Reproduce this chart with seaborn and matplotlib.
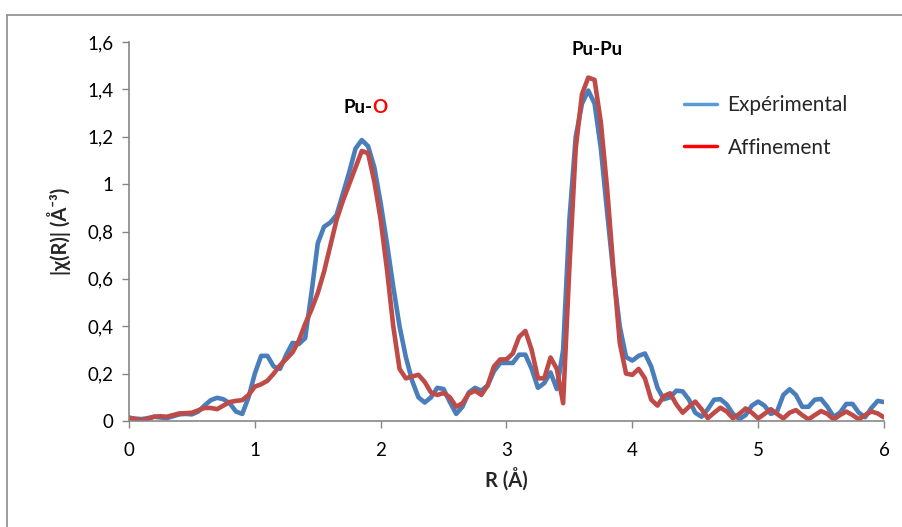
import numpy as np
import pandas as pd
import seaborn as sns
import matplotlib
matplotlib.use("Agg")
import matplotlib.pyplot as plt
from matplotlib.lines import Line2D

# ---- data ----
r_values = [round(0.05 * i, 2) for i in range(121)]

experimental = [
    0.012, 0.010, 0.008, 0.012, 0.018, 0.015, 0.012, 0.020, 0.028, 0.030,
    0.028, 0.040, 0.065, 0.088, 0.098, 0.092, 0.075, 0.040, 0.030, 0.100,
    0.200, 0.275, 0.275, 0.230, 0.220, 0.280, 0.330, 0.325, 0.350, 0.540,
    0.750, 0.820, 0.838, 0.870, 0.960, 1.050, 1.150, 1.186, 1.160, 1.070,
    0.920, 0.750, 0.567, 0.400, 0.270, 0.170, 0.100, 0.078, 0.100, 0.140,
    0.135, 0.080, 0.030, 0.060, 0.120, 0.140, 0.128, 0.150, 0.210, 0.245,
    0.245, 0.245, 0.280, 0.280, 0.220, 0.140, 0.160, 0.205, 0.135, 0.300,
    0.850, 1.200, 1.340, 1.395, 1.340, 1.150, 0.880, 0.620, 0.400, 0.270,
    0.255, 0.275, 0.285, 0.230, 0.140, 0.092, 0.100, 0.128, 0.125, 0.090,
    0.035, 0.018, 0.050, 0.090, 0.092, 0.070, 0.030, 0.008, 0.025, 0.065,
    0.082, 0.065, 0.030, 0.040, 0.110, 0.134, 0.110, 0.060, 0.060, 0.090,
    0.093, 0.060, 0.018, 0.035, 0.072, 0.072, 0.035, 0.016, 0.055, 0.085,
    0.080,
]

affinement = [
    0.015, 0.008, 0.003, 0.010, 0.018, 0.020, 0.018, 0.025, 0.032, 0.033,
    0.035, 0.045, 0.055, 0.055, 0.050, 0.065, 0.080, 0.085, 0.088, 0.110,
    0.145, 0.155, 0.170, 0.200, 0.235, 0.262, 0.290, 0.340, 0.410, 0.470,
    0.540, 0.630, 0.740, 0.850, 0.930, 1.000, 1.070, 1.140, 1.130, 1.010,
    0.850, 0.640, 0.400, 0.220, 0.180, 0.188, 0.195, 0.165, 0.120, 0.110,
    0.118, 0.100, 0.060, 0.075, 0.115, 0.128, 0.110, 0.150, 0.230, 0.260,
    0.260, 0.285, 0.355, 0.380, 0.300, 0.180, 0.180, 0.268, 0.220, 0.075,
    0.650, 1.150, 1.380, 1.450, 1.440, 1.260, 0.980, 0.640, 0.330, 0.200,
    0.195, 0.220, 0.180, 0.090, 0.065, 0.105, 0.117, 0.070, 0.035, 0.060,
    0.082, 0.050, 0.012, 0.035, 0.056, 0.040, 0.011, 0.030, 0.053, 0.035,
    0.011, 0.030, 0.050, 0.030, 0.011, 0.035, 0.046, 0.025, 0.007, 0.025,
    0.042, 0.030, 0.007, 0.025, 0.040, 0.025, 0.007, 0.025, 0.040, 0.032,
    0.015,
]

series_names = ["Expérimental", "Affinement"]
x_ticks = [0, 1, 2, 3, 4, 5, 6]
y_ticks = [0, 0.2, 0.4, 0.6, 0.8, 1.0, 1.2, 1.4, 1.6]
y_tick_labels = ["0", "0,2", "0,4", "0,6", "0,8", "1", "1,2", "1,4", "1,6"]

# ---- styling ----
sns.set_theme(style="white")
plt.rcParams["font.family"] = ["Lato", "DejaVu Sans"]

blue = "#4A7EBB"
red = "#BE4B48"
axis_gray = "#868686"

df = pd.DataFrame({
    "R": r_values * 2,
    "chi": experimental + affinement,
    "serie": [series_names[0]] * len(r_values) + [series_names[1]] * len(r_values),
})

fig = plt.figure(figsize=(9.03, 5.27), dpi=100)
ax = fig.add_axes([129 / 903, 1 - 421 / 527, (884 - 129) / 903, (421 - 42) / 527])

sns.lineplot(data=df, x="R", y="chi", hue="serie", palette=[blue, red],
             linewidth=3.3, ax=ax, legend=False, sort=False,
             solid_joinstyle="round", solid_capstyle="round")

ax.set_xlim(0, 6)
ax.set_ylim(0, 1.6)
ax.set_xticks(x_ticks)
ax.set_xticklabels([str(t) for t in x_ticks])
ax.set_yticks(y_ticks)
ax.set_yticklabels(y_tick_labels)

for side in ["top", "right"]:
    ax.spines[side].set_visible(False)
for side in ["left", "bottom"]:
    ax.spines[side].set_color(axis_gray)
    ax.spines[side].set_linewidth(1.2)
ax.tick_params(axis="both", which="major", direction="out", length=5, width=1,
               color=axis_gray, labelsize=13.5, labelcolor="black", pad=6,
               left=True, bottom=True)
ax.tick_params(axis="x", pad=10)

ax.set_xlabel("R (Å)", fontsize=14.5, fontweight="bold", labelpad=6)
ax.set_ylabel("|χ(R)| (Å⁻³)", fontsize=14.5, fontweight="bold", labelpad=12)

# peak labels
pu_txt = ax.text(1.94, 1.322, "Pu-", ha="right", va="center", fontsize=13.5,
                 fontweight="bold", color="black")
ax.annotate("O", xy=(1.0, 0.5), xycoords=pu_txt, xytext=(-0.5, 0),
            textcoords="offset points", ha="left", va="center",
            fontsize=13.5, fontweight="bold", color="#FF0000")
ax.text(3.72, 1.568, "Pu-Pu", ha="center", va="center", fontsize=13.5,
        fontweight="bold", color="black")

handles = [Line2D([], [], color="#5B9BD5", linewidth=2.5),
           Line2D([], [], color="#FF0000", linewidth=2.5)]
ax.legend(handles, series_names, loc="upper left",
          bbox_to_anchor=(0.71, 0.91), frameon=False, fontsize=15,
          handlelength=1.6, handletextpad=0.5, labelspacing=1.1)

# outer chart-area border (partially visible)
fig.add_artist(Line2D([7 / 903, 7 / 903], [0, 1 - 15 / 527], color="#8C8C8C",
                      linewidth=1.2, transform=fig.transFigure))
fig.add_artist(Line2D([7 / 903, 1], [1 - 15 / 527, 1 - 15 / 527], color="#8C8C8C",
                      linewidth=1.2, transform=fig.transFigure))

fig.savefig("out.png", dpi=100)
